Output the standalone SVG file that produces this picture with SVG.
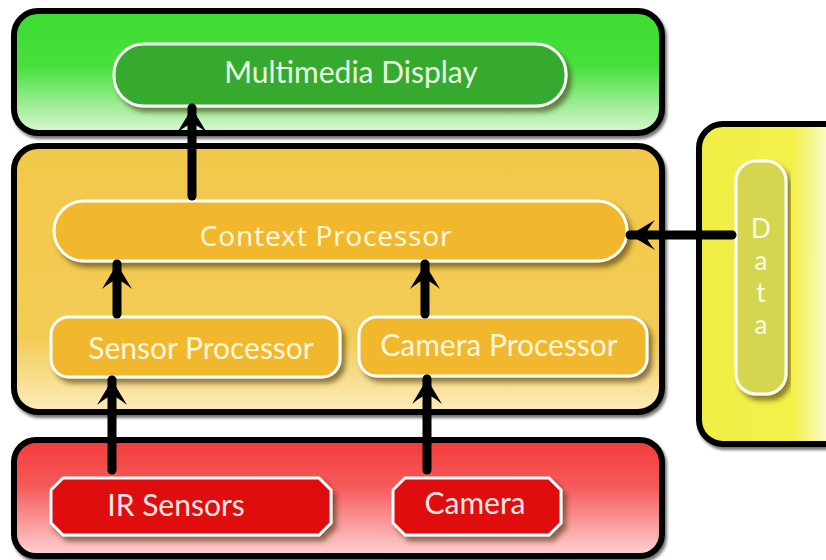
<svg xmlns="http://www.w3.org/2000/svg" width="826" height="560" viewBox="0 0 826 560">
  <defs>
    <linearGradient id="gGreen" x1="0" y1="0" x2="0" y2="1">
      <stop offset="0" stop-color="#3ddc32"/>
      <stop offset="0.45" stop-color="#48e03c"/>
      <stop offset="1" stop-color="#dbf7d4"/>
    </linearGradient>
    <linearGradient id="gOrange" x1="0" y1="0" x2="0" y2="1">
      <stop offset="0" stop-color="#f2c84a"/>
      <stop offset="0.72" stop-color="#f3cc55"/>
      <stop offset="1" stop-color="#fcecbc"/>
    </linearGradient>
    <linearGradient id="gRed" x1="0" y1="0" x2="0" y2="1">
      <stop offset="0" stop-color="#f43a3a"/>
      <stop offset="0.4" stop-color="#f65a5a"/>
      <stop offset="1" stop-color="#fdd4d4"/>
    </linearGradient>
    <linearGradient id="gYellow" x1="699" y1="0" x2="830" y2="0" gradientUnits="userSpaceOnUse">
      <stop offset="0" stop-color="#f1ef44"/>
      <stop offset="0.72" stop-color="#f2f04a"/>
      <stop offset="1" stop-color="#fbfbd6"/>
    </linearGradient>
    <filter id="boxShadow" x="-5%" y="-5%" width="110%" height="115%">
      <feDropShadow dx="2" dy="3" stdDeviation="1.5" flood-color="#000" flood-opacity="0.55"/>
    </filter>
    <filter id="nodeShadow" x="-5%" y="-10%" width="115%" height="130%">
      <feDropShadow dx="4" dy="5" stdDeviation="2.5" flood-color="#3a2a00" flood-opacity="0.55"/>
    </filter>
    <marker id="arrow" markerUnits="userSpaceOnUse" markerWidth="34" markerHeight="34" viewBox="-30 -17 34 34" refX="0" refY="0" orient="auto">
      <path d="M0,0 L-25,-15 Q-16,-4 -16,0 Q-16,4 -25,15 Z" fill="#000"/>
    </marker>
    <style>
      .frame { stroke: #000; stroke-width: 6; filter: url(#boxShadow); }
      .node { stroke: #fff; stroke-width: 3; filter: url(#nodeShadow); }
      .label { font-family: Lato, "Open Sans", "Liberation Sans", sans-serif; font-size: 30px; text-anchor: middle; }
      .geo { font-family: "Noto Sans", "DejaVu Sans", sans-serif; font-size: 28px; letter-spacing: 0.8px; text-anchor: middle; }
      .letter { font-family: Lato, "Open Sans", "Liberation Sans", sans-serif; font-size: 26px; text-anchor: middle; }
      .wire { stroke: #000; stroke-width: 9; fill: none; stroke-linecap: round; marker-end: url(#arrow); }
    </style>
  </defs>

  <!-- layer frames -->
  <g id="display-layer">
    <rect class="frame" x="14" y="11" width="648" height="122" rx="24" fill="url(#gGreen)"/>
  </g>
  <g id="processing-layer">
    <rect class="frame" x="14" y="146" width="648" height="266" rx="24" fill="url(#gOrange)"/>
  </g>
  <g id="input-layer">
    <rect class="frame" x="14" y="440" width="648" height="116" rx="22" fill="url(#gRed)"/>
  </g>
  <g id="data-layer">
    <rect class="frame" x="699" y="124" width="150" height="320" rx="24" fill="url(#gYellow)"/>
  </g>

  <!-- nodes -->
  <g id="multimedia-display">
    <rect class="node" x="114" y="44" width="452" height="62" rx="30" fill="#35aa2e"/>
    <text class="label" x="351" y="83" fill="#e9fbe2">Multimedia Display</text>
  </g>
  <g id="context-processor">
    <rect class="node" x="54" y="201" width="573" height="60" rx="30" fill="#f1b82e"/>
    <text class="geo" x="326" y="246" fill="#fff6dc">Context Processor</text>
  </g>
  <g id="sensor-processor">
    <rect class="node" x="51" y="317" width="289" height="60" rx="18" fill="#f1b82e"/>
    <text class="label" x="201" y="359" fill="#fff6dc">Sensor Processor</text>
  </g>
  <g id="camera-processor">
    <rect class="node" x="359" y="317" width="288" height="59" rx="18" fill="#f1b82e"/>
    <text class="label" x="499" y="356" fill="#fff6dc">Camera Processor</text>
  </g>
  <g id="ir-sensors">
    <polygon class="node" points="63,478 319,478 331,490 331,523 319,535 63,535 51,523 51,490" fill="#df0b0b"/>
    <text class="label" x="176" y="516" fill="#ffe6e6">IR Sensors</text>
  </g>
  <g id="camera">
    <polygon class="node" points="405,478 549,478 561,490 561,523 549,535 405,535 393,523 393,490" fill="#df0b0b"/>
    <text class="label" font-size="31" x="475" y="514" fill="#ffe6e6">Camera</text>
  </g>
  <g id="data">
    <rect class="node" x="736" y="161" width="50" height="233" rx="20" fill="#d5d64f"/>
    <text class="letter" x="761" y="238" fill="#fbfbe6">D</text>
    <text class="letter" x="761" y="270" fill="#fbfbe6">a</text>
    <text class="letter" x="761" y="302" fill="#fbfbe6">t</text>
    <text class="letter" x="761" y="334" fill="#fbfbe6">a</text>
  </g>

  <!-- connectors -->
  <g id="connectors">
    <path class="wire" d="M192,196 V108"/>
    <path class="wire" d="M117,314 V264"/>
    <path class="wire" d="M425,314 V264"/>
    <path class="wire" d="M112,470 V380"/>
    <path class="wire" d="M427,470 V379"/>
    <path class="wire" d="M732,235 H630"/>
  </g>
</svg>
